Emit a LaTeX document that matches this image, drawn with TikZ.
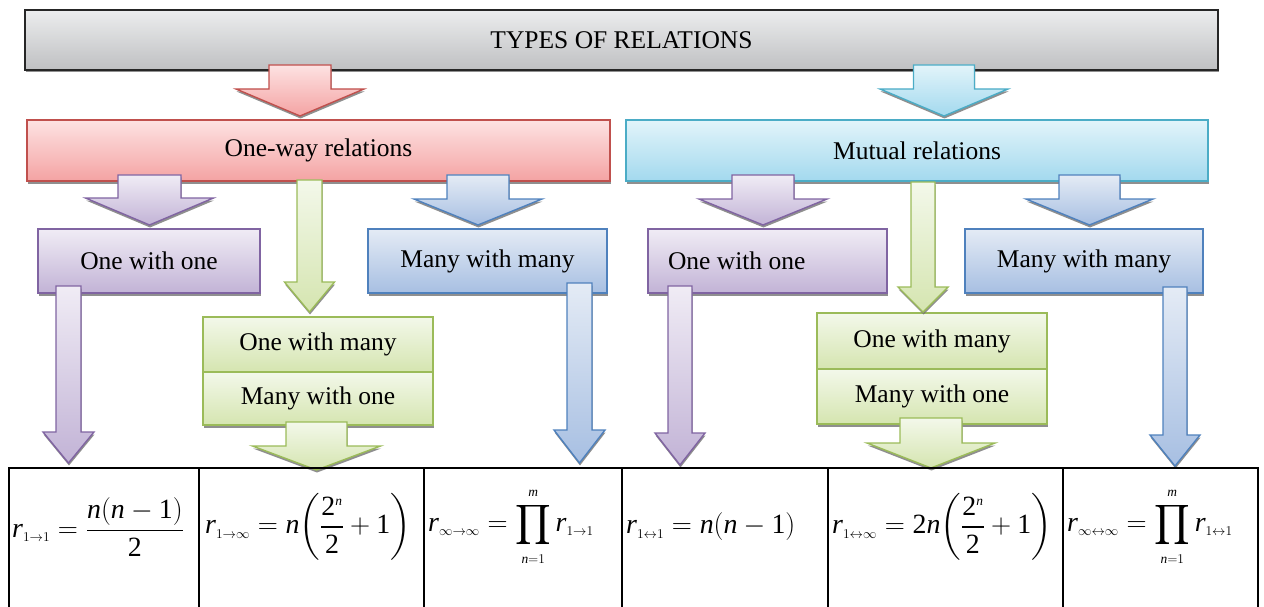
\documentclass[tikz,border=0pt]{standalone}
\usepackage{amsmath}
\usepackage{fontspec}
\setmainfont{Liberation Serif}
\usetikzlibrary{shadows}
\definecolor{grayT}{HTML}{ECEDEE}\definecolor{grayB}{HTML}{BFC0C2}\definecolor{grayD}{HTML}{262626}
\definecolor{redT}{HTML}{FDE2E2}\definecolor{redB}{HTML}{F4A3A3}\definecolor{redD}{HTML}{C0504D}
\definecolor{cyaT}{HTML}{E2F4FA}\definecolor{cyaB}{HTML}{A3D9EE}\definecolor{cyaD}{HTML}{4BACC6}
\definecolor{purT}{HTML}{F0ECF5}\definecolor{purB}{HTML}{C2B3D6}\definecolor{purD}{HTML}{8064A2}
\definecolor{bluT}{HTML}{E4EBF5}\definecolor{bluB}{HTML}{A7BFE2}\definecolor{bluD}{HTML}{4F81BD}
\definecolor{grnT}{HTML}{F3F8EA}\definecolor{grnB}{HTML}{D5E5B0}\definecolor{grnD}{HTML}{9BBB59}
\newcommand{\sub}[1]{\mbox{\fontsize{12}{12}\selectfont$#1$}}
\newcommand{\vr}{\mathit{r}}
\newcommand{\vn}{\mathit{n}}
\newcommand{\vm}{\mathit{m}}
\newcommand{\dg}[1]{\mathrm{#1}}
\newcommand{\po}{\mathopen{\mathrm{(}}}
\newcommand{\pc}{\mathclose{\mathrm{)}}}
% block arrow: style, cx, ytop, stem half width, head half width, neck y, tip y
\newcommand{\barrow}[7]{%
  \path[#1] (#2-#4,#3) -- (#2+#4,#3) -- (#2+#4,#6) -- (#2+#5,#6) -- (#2,#7)
    -- (#2-#5,#6) -- (#2-#4,#6) -- cycle;}
\tikzset{
  shad/.style={drop shadow={shadow xshift=0.5pt, shadow yshift=-2.5pt, fill=black!55, opacity=0.8}},
  box/.style={draw, line width=1.4pt, shad, inner sep=0pt,
    font=\fontsize{25.5}{30}\selectfont},
  titlebox/.style={box, draw=grayD, top color=grayT, bottom color=grayB},
  redbox/.style={box, draw=redD, top color=redT, bottom color=redB},
  cyabox/.style={box, draw=cyaD, top color=cyaT, bottom color=cyaB},
  purbox/.style={box, draw=purD, top color=purT, bottom color=purB},
  blubox/.style={box, draw=bluD, top color=bluT, bottom color=bluB},
  grnbox/.style={box, draw=grnD, top color=grnT, bottom color=grnB},
  redarr/.style={draw=redD, line width=1.4pt, shad, top color=redT, bottom color=redB},
  cyaarr/.style={draw=cyaD, line width=1.4pt, shad, top color=cyaT, bottom color=cyaB},
  purarr/.style={draw=purD, line width=1.4pt, shad, top color=purT, bottom color=purB},
  bluarr/.style={draw=bluD, line width=1.4pt, shad, top color=bluT, bottom color=bluB},
  grnarr/.style={draw=grnD, line width=1.4pt, shad, top color=grnT, bottom color=grnB},
  formula/.style={anchor=west, inner sep=0pt, scale=1.12, transform shape,
    font=\fontsize{24.88}{30}\selectfont},
  grid/.style={line width=1.6pt, black}
}
\begin{document}
\begin{tikzpicture}[x=1pt, y=-1pt]
\useasboundingbox (0,0) rectangle (1264,607);
% boxes
\node[titlebox, minimum width=1193pt, minimum height=60pt] (title) at (621.5,40) {TYPES OF RELATIONS};
\node[redbox, minimum width=583pt, minimum height=61pt] (oneway) at (318.5,150.5) {One-way relations};
\node[cyabox, minimum width=582pt, minimum height=61pt] (mutual) at (917,150.5) {Mutual relations};
\node[purbox, minimum width=222pt, minimum height=64pt] (ow11) at (149,261) {One with one};
\node[blubox, minimum width=239pt, minimum height=64pt] (owmm) at (487.5,261) {Many with many};
\node[grnbox, minimum width=230pt, minimum height=55pt] (ow1m) at (318,344.5) {One with many};
\node[grnbox, minimum width=230pt, minimum height=53pt] (owm1) at (318,398.5) {Many with one};
\node[purbox, minimum width=239pt, minimum height=64pt, inner xsep=20pt] (mu11) at (767.5,261) {\makebox[199pt][l]{One with one}};
\node[blubox, minimum width=238pt, minimum height=64pt] (mumm) at (1084,261) {Many with many};
\node[grnbox, minimum width=230pt, minimum height=56pt] (mu1m) at (932,341) {One with many};
\node[grnbox, minimum width=230pt, minimum height=55pt] (mum1) at (932,396.5) {Many with one};
% block arrows
\barrow{redarr}{300}{65}{31}{64}{89}{116}
\barrow{cyaarr}{944}{65}{30.5}{64}{89}{116}
\barrow{purarr}{149.5}{175}{31.5}{64}{198}{225}
\barrow{grnarr}{309.5}{180}{12.5}{25}{282}{312}
\barrow{bluarr}{478}{175}{31}{64}{199}{225}
\barrow{purarr}{68.5}{286}{12.5}{25.5}{432}{463}
\barrow{bluarr}{579.5}{283}{12.5}{25.5}{430}{463}
\barrow{grnarr}{316.5}{422}{30.5}{64}{446}{470}
\barrow{purarr}{763}{175}{31}{64}{199}{225}
\barrow{grnarr}{923}{182}{12}{25}{287}{312}
\barrow{bluarr}{1089.5}{175}{30.5}{63.5}{199}{225}
\barrow{purarr}{680}{286}{12}{25}{433}{465}
\barrow{bluarr}{1175}{287}{12}{25}{435}{466}
\barrow{grnarr}{931}{418}{31}{64}{443}{468}
% table
\draw[grid] (9,610) -- (9,468) -- (1258,468) -- (1258,610);
\foreach \x in {199,424,622,828,1063} \draw[grid] (\x,468) -- (\x,610);
\node[formula] (f1) at (12,527) {$\displaystyle \vr_{\sub{1{\to}1}}=\frac{\vn\po\vn-\dg{1}\pc}{\dg{2}}$};
\node[formula] (f2) at (205,527) {$\displaystyle \vr_{\sub{1{\to}\infty}}=\vn\!\left(\frac{\dg{2}^{\sub{\vn}}}{\dg{2}}+\dg{1}\right)$};
\node[formula] (f3) at (428,527) {$\displaystyle \vr_{\sub{\infty{\to}\infty}}=\prod\limits_{\sub{\vn{=}1}}^{\sub{\vm}} \vr_{\sub{1{\to}1}}$};
\node[formula] (f4) at (626,527) {$\displaystyle \vr_{\sub{1{\leftrightarrow}1}}=\vn\po\vn-\dg{1}\pc$};
\node[formula] (f5) at (832,527) {$\displaystyle \vr_{\sub{1{\leftrightarrow}\infty}}=\dg{2}\vn\!\left(\frac{\dg{2}^{\sub{\vn}}}{\dg{2}}+\dg{1}\right)$};
\node[formula] (f6) at (1067,527) {$\displaystyle \vr_{\sub{\infty{\leftrightarrow}\infty}}=\prod\limits_{\sub{\vn{=}1}}^{\sub{\vm}} \vr_{\sub{1{\leftrightarrow}1}}$};
\end{tikzpicture}
\end{document}
